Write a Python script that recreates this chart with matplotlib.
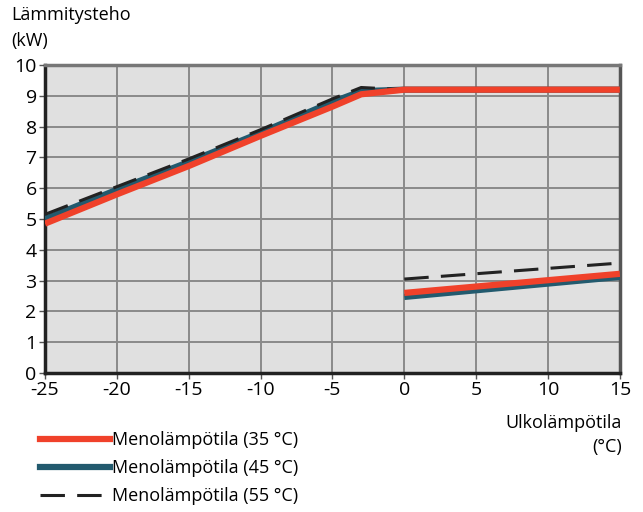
import numpy as np
import matplotlib.pyplot as plt

plt.rcParams['font.family'] = ['Open Sans', 'DejaVu Sans']
plt.rcParams['axes.unicode_minus'] = False

# Heating output (kW) vs outdoor temperature (°C)
temp_upper = [-25, -20, -15, -10, -5, -3, 0, 15]
p35_upper = [4.85, 5.8, 6.72, 7.7, 8.65, 9.05, 9.2, 9.2]
p45_upper = [5.0, 5.95, 6.85, 7.8, 8.8, 9.15, 9.2, 9.2]
p55_upper = [5.15, 6.05, 6.95, 7.9, 8.9, 9.27, 9.2, 9.2]

temp_lower = [0, 15]
p35_lower = [2.6, 3.22]
p45_lower = [2.47, 3.12]
p55_lower = [3.05, 3.57]

labels = ["Menolämpötila (35 °C)", "Menolämpötila (45 °C)", "Menolämpötila (55 °C)"]
colors = ["#f0412a", "#225a6e", "#222222"]

fig = plt.figure(figsize=(6.43, 5.12), dpi=100)
ax = fig.add_axes([0.07, 0.2715, 0.894, 0.6015])
ax.set_facecolor("#e0e0e0")

# Draw series
ax.plot(temp_upper, p45_upper, color=colors[1], lw=4.5, solid_capstyle='butt', zorder=3)
ax.plot(temp_lower, p45_lower, color=colors[1], lw=4.5, solid_capstyle='butt', zorder=3)
ax.plot(temp_upper, p55_upper, color=colors[2], lw=2.2, dashes=(8, 4), zorder=4)
ax.plot(temp_lower, p55_lower, color=colors[2], lw=2.2, dashes=(8, 4), zorder=4)
ax.plot(temp_upper, p35_upper, color=colors[0], lw=4.5, solid_capstyle='butt', zorder=5)
ax.plot(temp_lower, p35_lower, color=colors[0], lw=4.5, solid_capstyle='butt', zorder=5)

ax.set_xlim(-25, 15)
ax.set_ylim(0, 10)
ax.set_xticks(np.arange(-25, 16, 5))
ax.set_yticks(np.arange(0, 11, 1))
ax.grid(True, color="#8a8a8a", lw=1.4)
ax.set_axisbelow(True)
ax.tick_params(labelsize=14, length=4, width=1, color="#555555", pad=2)

for side in ["left", "bottom"]:
    ax.spines[side].set_linewidth(2.5)
    ax.spines[side].set_color("#222222")
ax.spines["right"].set_linewidth(2.5)
ax.spines["right"].set_color("#555555")
ax.spines["top"].set_linewidth(2.5)
ax.spines["top"].set_color("#777777")

# Axis titles
fig.text(0.018, 0.970, "Lämmitysteho", fontsize=13, va="center", ha="left")
fig.text(0.018, 0.920, "(kW)", fontsize=13, va="center", ha="left")
fig.text(0.967, 0.174, "Ulkolämpötila", fontsize=13, va="center", ha="right")
fig.text(0.967, 0.126, "(°C)", fontsize=13, va="center", ha="right")

# Legend
handles = [
    plt.Line2D([], [], color=colors[0], lw=4.5),
    plt.Line2D([], [], color=colors[1], lw=4.5),
    plt.Line2D([], [], color=colors[2], lw=2.2, dashes=(8, 4)),
]
fig.legend(handles, labels, loc="upper left", bbox_to_anchor=(0.062, 0.158),
           frameon=False, fontsize=13, handlelength=3.9, handletextpad=0.1,
           labelspacing=0.55, borderaxespad=0, borderpad=0)

fig.savefig("out.png", dpi=100)
